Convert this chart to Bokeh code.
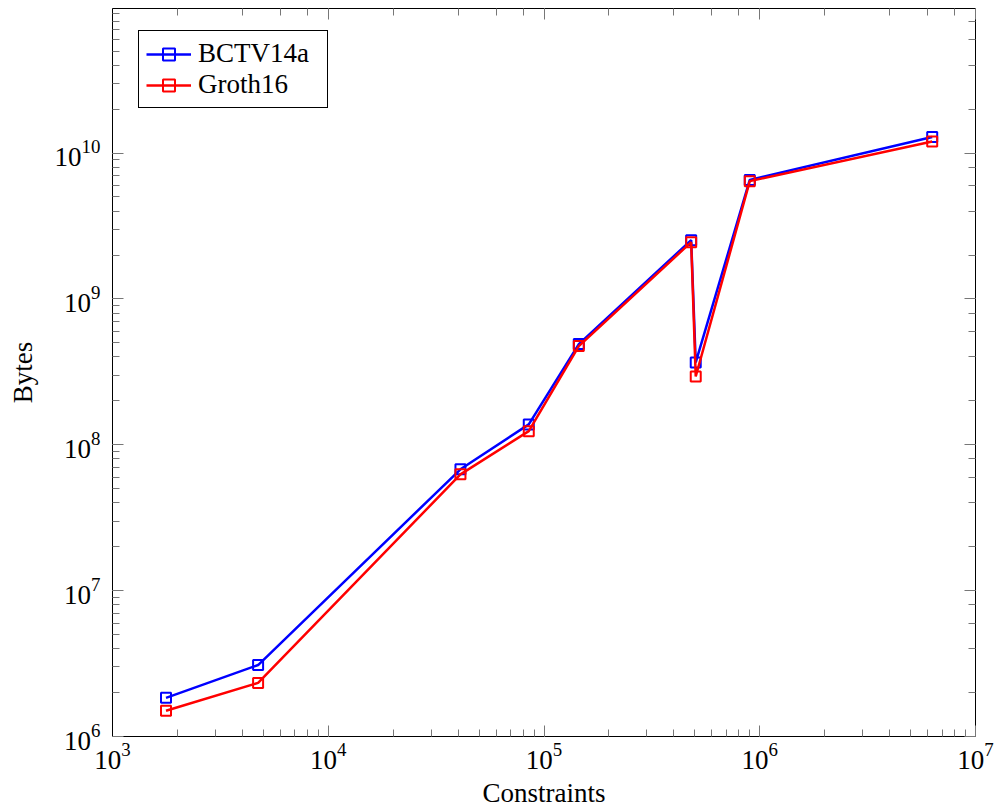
from bokeh.plotting import figure
from bokeh.models import LogAxis, Range1d, LogTicker, CustomJSTickFormatter
from bokeh.embed import file_html
from bokeh.resources import INLINE

# Data
constraints = [1770, 4730, 41000, 85000, 145000, 481000, 505000, 899000, 6300000]
bctv14a = [1.84e6, 3.09e6, 6.79e7, 1.38e8, 4.90e8, 2.53e9, 3.67e8, 6.55e9, 1.29e10]
groth16 = [1.50e6, 2.33e6, 6.27e7, 1.24e8, 4.75e8, 2.45e9, 2.94e8, 6.42e9, 1.20e10]

series_names = ["BCTV14a", "Groth16"]
series_colors = ["#0000FF", "#FF0000"]

FONT = "Liberation Serif"

p = figure(
    width=995, height=812,
    x_axis_type="log", y_axis_type="log",
    x_range=Range1d(1e3, 1e7), y_range=Range1d(1e6, 0.98e11),
    output_backend="svg", toolbar_location=None,
    min_border_left=112, min_border_right=20,
    min_border_top=8, min_border_bottom=76,
    background_fill_color="white", border_fill_color="white",
)
p.grid.visible = False
p.outline_line_color = "black"
p.outline_line_width = 1

for ax in (p.xaxis[0], p.yaxis[0]):
    ax.axis_line_color = "black"
    ax.major_tick_in = 11
    ax.major_tick_out = 0
    ax.minor_tick_in = 7
    ax.minor_tick_out = 0
    ax.major_tick_line_color = "#777777"
    ax.minor_tick_line_color = "#777777"
    ax.major_label_text_font = FONT
    ax.major_label_text_font_size = "27px"
    ax.major_label_text_color = "black"
    ax.axis_label_text_font = FONT
    ax.axis_label_text_font_size = "27px"
    ax.axis_label_text_font_style = "normal"
    ax.axis_label_text_color = "black"

p.xaxis.axis_label = "Constraints"
p.yaxis.axis_label = "Bytes"
p.xaxis.major_label_standoff = 6
p.xaxis.axis_label_standoff = 6
p.yaxis.major_label_standoff = 12
p.yaxis.axis_label_standoff = 14

# Mirrored ticks on top and right (no labels)
for side in ("above", "right"):
    ax = LogAxis(ticker=LogTicker(), formatter=CustomJSTickFormatter(code="return ''"))
    ax.axis_line_color = None
    ax.major_tick_in = 11
    ax.major_tick_out = 0
    ax.minor_tick_in = 7
    ax.minor_tick_out = 0
    ax.major_tick_line_color = "#777777"
    ax.minor_tick_line_color = "#777777"
    ax.major_label_text_font_size = "1px"
    ax.major_label_standoff = 0
    p.add_layout(ax, side)

for name, color, values in zip(series_names, series_colors, [bctv14a, groth16]):
    p.line(constraints, values, line_color=color, line_width=2.5, legend_label=name)
    p.scatter(constraints, values, marker="square", size=10, line_color=color,
              line_width=2, fill_alpha=0, legend_label=name)

lg = p.legend[0]
lg.location = (26, 628)
lg.border_line_color = "black"
lg.border_line_width = 1
lg.border_line_alpha = 1
lg.background_fill_color = "white"
lg.background_fill_alpha = 1
lg.label_text_font = FONT
lg.label_text_font_size = "27px"
lg.label_text_color = "black"
lg.glyph_width = 45
lg.glyph_height = 30
lg.label_height = 30
lg.label_width = 122
lg.label_standoff = 7
lg.spacing = 0
lg.padding = 7

open("out.html", "w").write(file_html(p, INLINE))
